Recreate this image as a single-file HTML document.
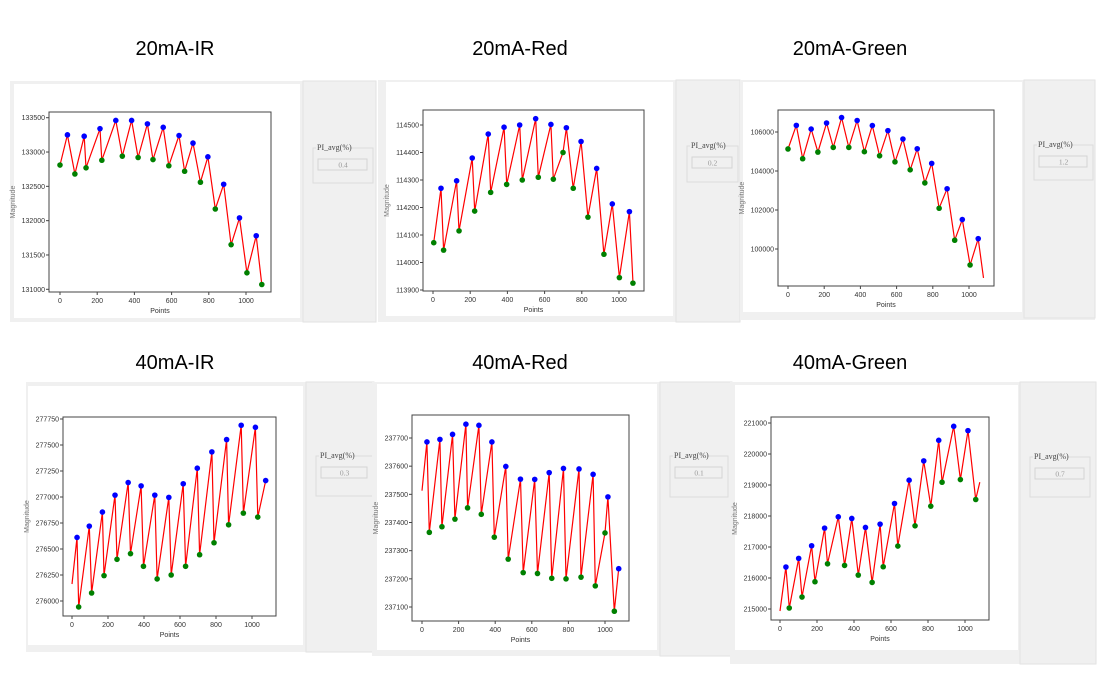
<!DOCTYPE html>
<html><head><meta charset="utf-8"><style>
body{margin:0;background:#fff;width:1110px;height:692px;overflow:hidden;font-family:"Liberation Sans",sans-serif}
svg{display:block}
</style></head><body>
<svg id="s" width="1110" height="692" viewBox="0 0 1110 692" xmlns="http://www.w3.org/2000/svg"></svg>
<script>
// ---- data ----
const xTicks=[0,200,400,600,800,1000];
const p1YTicks=[131000,131500,132000,132500,133000,133500];
const p1PeakX=[40,130,215,300,385,470,555,640,715,795,880,965,1055];
const p1PeakY=[133250,133230,133340,133460,133460,133410,133360,133240,133130,132930,132530,132040,131780];
const p1TroughX=[0,80,140,225,335,420,500,585,670,755,835,920,1005,1085];
const p1TroughY=[132810,132680,132770,132880,132940,132920,132890,132800,132720,132560,132170,131650,131240,131070];
const p2YTicks=[113900,114000,114100,114200,114300,114400,114500];
const p2PeakX=[43,127,211,297,382,466,552,634,717,796,880,964,1056];
const p2PeakY=[114270,114297,114380,114467,114492,114500,114523,114502,114490,114440,114342,114213,114185];
const p2TroughX=[4,57,140,224,310,396,480,566,647,699,754,833,919,1002,1075];
const p2TroughY=[114072,114045,114115,114187,114255,114284,114300,114310,114303,114400,114270,114165,114030,113945,113925];
const p3YTicks=[100000,102000,104000,106000];
const p3PeakX=[46,128,213,296,382,466,552,635,714,794,879,963,1051];
const p3PeakY=[106340,106150,106460,106740,106590,106330,106070,105640,105140,104390,103090,101510,100530];
const p3TroughX=[0,81,165,250,336,422,506,591,675,756,835,921,1006];
const p3TroughY=[105130,104630,104970,105210,105210,104990,104780,104470,104060,103390,102090,100450,99180];
const p3EndX=[1080];const p3EndY=[98520];
const p4YTicks=[276000,276250,276500,276750,277000,277250,277500,277750];
const p4PeakX=[28,96,169,239,312,384,460,538,618,696,777,859,940,1019,1076];
const p4PeakY=[276611,276720,276855,277018,277139,277107,277018,276996,277127,277277,277434,277552,277690,277670,277158];
const p4TroughX=[37,109,178,250,325,397,473,551,631,709,789,870,952,1032];
const p4TroughY=[275943,276077,276244,276401,276455,276334,276212,276250,276334,276445,276560,276733,276845,276807];
const p4StartX=[0];const p4StartY=[276163];
const p5YTicks=[237100,237200,237300,237400,237500,237600,237700];
const p5PeakX=[27,98,167,240,311,382,458,538,616,695,773,858,935,1016,1075];
const p5PeakY=[237686,237695,237713,237749,237745,237686,237599,237554,237553,237577,237592,237590,237571,237491,237236];
const p5TroughX=[40,109,180,249,324,395,471,553,631,709,787,869,947,1000,1051];
const p5TroughY=[237365,237385,237412,237452,237429,237348,237270,237222,237219,237202,237200,237206,237175,237363,237085];
const p5StartX=[0];const p5StartY=[237513];
const p6YTicks=[215000,216000,217000,218000,219000,220000,221000];
const p6PeakX=[32,101,171,241,315,388,462,541,619,698,777,858,939,1016];
const p6PeakY=[216354,216633,217040,217609,217974,217920,217630,217737,218403,219155,219777,220442,220893,220754];
const p6TroughX=[50,119,189,257,349,423,498,558,637,730,815,876,975,1058];
const p6TroughY=[215032,215386,215880,216459,216406,216094,215858,216363,217030,217684,218317,219090,219176,218532];
const p6StartX=[0];const p6StartY=[214936];const p6EndX=[1080];const p6EndY=[219090];
const titles=["20mA-IR","20mA-Red","20mA-Green","40mA-IR","40mA-Red","40mA-Green"];
const piValues=["0.4","0.2","1.2","0.3","0.1","0.7"];

// ---- layout ----
const NS="http://www.w3.org/2000/svg";
const svg=document.getElementById('s');
function mk(tag,attrs,parent){const e=document.createElementNS(NS,tag);for(const k in attrs)e.setAttribute(k,attrs[k]);(parent||svg).appendChild(e);return e;}
const panels=[
 {name:"20ma-ir",frame:[10,81,366,241],card:[14,84,286,234],gray:[303,81,73,241],grp:[313,148,60,35],box:[49,112,222,180],yA:[131000,289.3],yB:[133500,117.7],x0:60,x1k:246,title:[175,55],yt:p1YTicks,px:p1PeakX,py:p1PeakY,tx:p1TroughX,ty:p1TroughY,ex:[],ey:[]},
 {name:"20ma-red",frame:[378,80,362,242],card:[386,82,287,234],gray:[676,80,64,242],grp:[687,146,51,36],box:[423,110,221,181],yA:[113900,290],yB:[114500,125],x0:433,x1k:619,title:[520,55],yt:p2YTicks,px:p2PeakX,py:p2PeakY,tx:p2TroughX,ty:p2TroughY,ex:[],ey:[]},
 {name:"20ma-green",frame:[740,80,355,240],card:[743,82,279,230],gray:[1024,80,71,238],grp:[1034,145,59,35],box:[778,110,216,176],yA:[100000,249],yB:[106000,132],x0:788,x1k:969,title:[850,55],yt:p3YTicks,px:p3PeakX,py:p3PeakY,tx:p3TroughX,ty:p3TroughY,ex:p3EndX,ey:p3EndY},
 {name:"40ma-ir",frame:[26,382,348,270],card:[28,386,275,259],gray:[306,382,68,270],grp:[316,456,57,40],box:[63,417,213,199],yA:[276000,601],yB:[277750,419],x0:72,x1k:252,title:[175,369],yt:p4YTicks,px:p4PeakX,py:p4PeakY,tx:p4TroughX,ty:p4TroughY,ex:p4StartX,ey:p4StartY},
 {name:"40ma-red",frame:[372,382,360,274],card:[377,384,280,266],gray:[660,382,72,274],grp:[670,456,58,41],box:[412,415,217,206],yA:[237100,607],yB:[237700,438],x0:422,x1k:605,title:[520,369],yt:p5YTicks,px:p5PeakX,py:p5PeakY,tx:p5TroughX,ty:p5TroughY,ex:p5StartX,ey:p5StartY},
 {name:"40ma-green",frame:[730,382,366,282],card:[735,385,283,265],gray:[1020,382,76,282],grp:[1030,457,60,40],box:[771,417,218,203],yA:[215000,609],yB:[221000,423],x0:780,x1k:965,title:[850,369],yt:p6YTicks,px:p6PeakX,py:p6PeakY,tx:p6TroughX,ty:p6TroughY,ex:p6StartX.concat(p6EndX),ey:p6StartY.concat(p6EndY)}
];
panels.forEach((p,i)=>{
 const g=mk('g',{});
 
 
 const fr=mk('rect',{x:p.frame[0],y:p.frame[1],width:p.frame[2],height:p.frame[3],fill:'#f0f0f0'},g);
 
 const gr=mk('rect',{x:p.gray[0],y:p.gray[1],width:p.gray[2],height:p.gray[3],fill:'#f0f0f0',stroke:'#e2e2e2'},g);
 
 const cd=mk('rect',{x:p.card[0],y:p.card[1],width:p.card[2],height:p.card[3],fill:'#fff'},g);
 
 const t=mk('text',{x:p.title[0],y:p.title[1],'font-size':20,'text-anchor':'middle',fill:'#000'},g);
 t.textContent=titles[i];
 
 // group box
 const [gx,gy,gw,gh]=p.grp;
 const gb=mk('rect',{x:gx,y:gy,width:gw,height:gh,fill:'none',stroke:'#dcdcdc'},g);
 
 mk('rect',{x:gx+3,y:gy-5,width:34,height:9,fill:'#f0f0f0'},g);
 const gl=mk('text',{x:gx+4,y:gy+2,'font-size':8,fill:'#444','font-family':'Liberation Serif,serif'},g);
 gl.textContent='PI_avg(%)';
 
 const ib=mk('rect',{x:gx+5,y:gy+11,width:gw-11,height:11,fill:'#f0f0f0',stroke:'#d4d4d4'},g);
 
 const iv=mk('text',{x:gx+gw/2,y:gy+19.5,'font-size':7.5,'text-anchor':'middle',fill:'#999','font-family':'Liberation Serif,serif'},g);
 iv.textContent=piValues[i];
 
 // axes
 const [bx,by,bw,bh]=p.box;
 const X=v=>p.x0+(v/1000)*(p.x1k-p.x0);
 const Y=v=>p.yA[1]+(v-p.yA[0])*(p.yB[1]-p.yA[1])/(p.yB[0]-p.yA[0]);
 const ax=mk('rect',{x:bx,y:by,width:bw,height:bh,fill:'#fff',stroke:'#444','stroke-width':1},g);
 
 xTicks.forEach(v=>{
  mk('line',{x1:X(v),x2:X(v),y1:by+bh,y2:by+bh+3,stroke:'#444'},g);
  const tl=mk('text',{x:X(v),y:by+bh+11,'font-size':7,'text-anchor':'middle',fill:'#333'},g);
  tl.textContent=v;
  
 });
 p.yt.forEach(v=>{
  mk('line',{x1:bx-3,x2:bx,y1:Y(v),y2:Y(v),stroke:'#444'},g);
  const tl=mk('text',{x:bx-4,y:Y(v)+2.5,'font-size':7,'text-anchor':'end',fill:'#333'},g);
  tl.textContent=v;
  
 });
 const xl=mk('text',{x:(bx+bx+bw)/2,y:by+bh+21,'font-size':7,'text-anchor':'middle',fill:'#333'},g);
 xl.textContent='Points';
 
 const yy=by+bh/2, yx=bx-34;
 const yl=mk('text',{x:yx,y:yy,'font-size':7,'text-anchor':'middle',fill:'#777',transform:`rotate(-90 ${yx} ${yy})`},g);
 yl.textContent='Magnitude';
 
 // line
 let pts=[];
 p.px.forEach((v,k)=>pts.push([v,p.py[k]]));
 p.tx.forEach((v,k)=>pts.push([v,p.ty[k]]));
 p.ex.forEach((v,k)=>pts.push([v,p.ey[k]]));
 pts.sort((a,b)=>a[0]-b[0]);
 const pl=mk('polyline',{points:pts.map(q=>X(q[0]).toFixed(1)+','+Y(q[1]).toFixed(1)).join(' '),fill:'none',stroke:'#ff0000','stroke-width':1.2},g);
 
 p.px.forEach((v,k)=>{
  const c=mk('circle',{cx:X(v),cy:Y(p.py[k]),r:2.8,fill:'#0000ff'},g);
  
 });
 p.tx.forEach((v,k)=>{
  const c=mk('circle',{cx:X(v),cy:Y(p.ty[k]),r:2.8,fill:'#008000'},g);
  
 });
});
</script>
</body></html>
